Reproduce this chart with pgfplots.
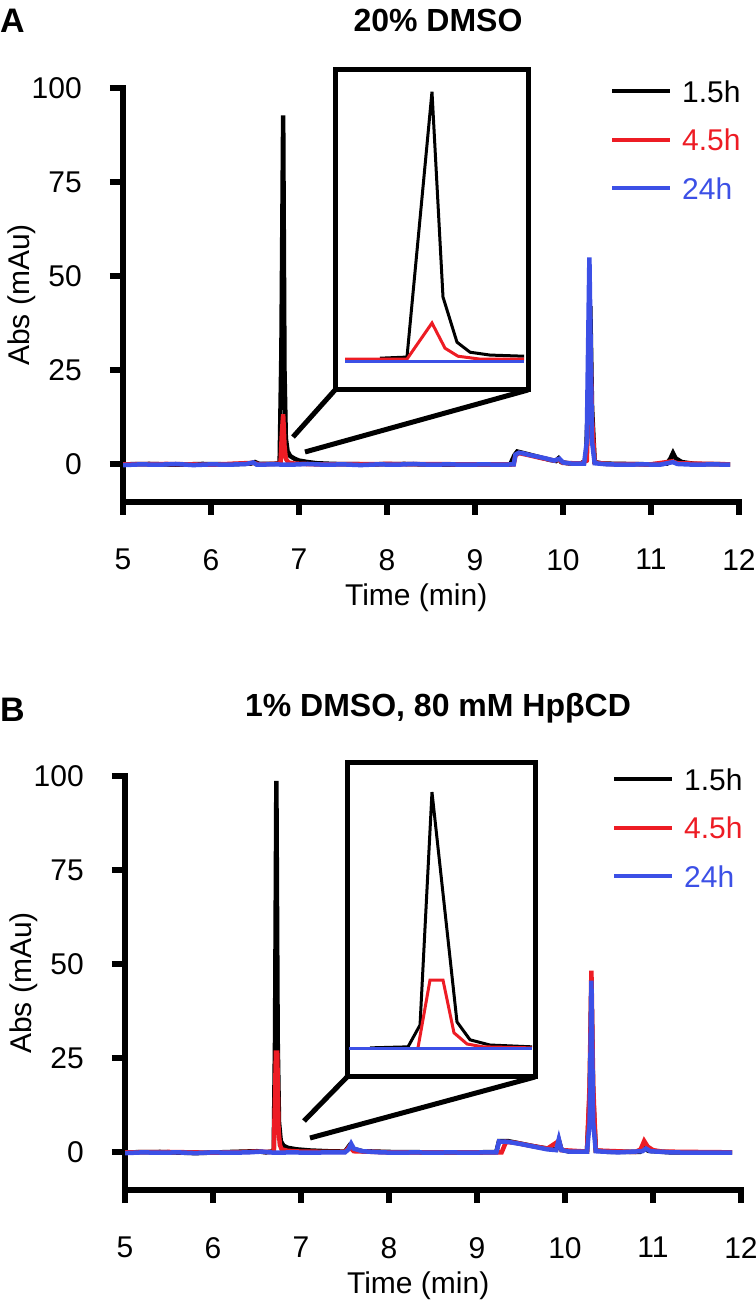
\documentclass[border=0pt]{standalone}
\usepackage{pgfplots}
\pgfplotsset{compat=1.18}
\usepackage{fontspec}
\setmainfont{Liberation Sans}
\definecolor{cred}{RGB}{237,28,36}
\definecolor{cblue}{RGB}{60,80,230}
\newcommand{\tf}{\fontsize{30bp}{36bp}\selectfont}
\newcommand{\hf}{\fontsize{32bp}{38bp}\selectfont\bfseries}
\newcommand{\pf}{\fontsize{34bp}{40bp}\selectfont\bfseries}

\pgfplotsset{
  mainax/.style={
    scale only axis, width=616bp, height=414bp,
    xmin=5, xmax=12, ymin=-10, ymax=100,
    axis x line=bottom, axis y line=left,
    axis line style={line width=6bp, -, line cap=rect},
    xtick={5,6,...,12}, ytick={0,25,50,75,100},
    tick align=outside, major tick length=13bp,
    every tick/.style={line width=6bp, black},
    tick label style={font=\tf},
    /pgf/number format/assume math mode=true,
    xticklabel style={anchor=north, inner sep=0pt, yshift=-34bp},
    yticklabel style={anchor=east, inner sep=0pt, xshift=-28bp},
    xlabel={Time (min)}, ylabel={Abs (mAu)},
    xlabel style={at={(axis description cs:0.476,-0.232)}, anchor=center, font=\tf},
    ylabel style={at={(axis description cs:-0.164,0.5)}, anchor=center, font=\tf},
    legend style={at={(axis description cs:0.7906,1.0193)}, anchor=north west,
      draw=none, fill=none, inner sep=0pt, row sep=26.5bp, column sep=10bp,
      font=\tf, nodes={inner sep=0pt, text height=22bp, text depth=0pt}},
    legend cell align=left,
    legend image code/.code={\draw[#1, line width=4bp] (0bp,0bp) -- (58bp,0bp);},
  },
  insetax/.style={
    scale only axis, ticks=none,
    axis line style={line width=5bp},
  },
}

\begin{document}
\begin{tikzpicture}
\useasboundingbox (0,0) rectangle (756bp,1309bp);

% ---------------- Panel A ----------------
\node[anchor=west, inner sep=0pt, font=\pf] at (0bp,1288bp) {A};
\node[inner sep=0pt, font=\hf] at (438bp,1288bp) {20\% DMSO};

\begin{axis}[mainax, at={(123bp,807bp)}, anchor=south west]
\addplot[black, line width=4.5bp] coordinates {
(5.00,0.0) (5.30,0.1) (5.60,-0.1) (5.90,0.1) (6.20,0.0) (6.45,0.2) (6.50,0.6)
(6.55,0.1) (6.70,0.1) (6.78,0.3) (6.80,30) (6.82,92.7) (6.835,25) (6.85,7)
(6.87,3.5) (6.90,2.2) (6.95,1.5) (7.00,1.0) (7.10,0.6) (7.20,0.3) (7.40,0.1)
(7.80,0.0) (8.20,0.1) (8.60,-0.1) (9.00,0.0) (9.40,0.0) (9.45,2.5) (9.48,3.4)
(9.55,3.0) (9.65,2.4) (9.75,1.8) (9.85,1.2) (9.92,0.9) (9.95,1.6) (9.98,0.6)
(10.05,0.3) (10.20,0.2) (10.26,1.0) (10.29,20) (10.31,42) (10.33,15) (10.36,0.6)
(10.45,0.2) (10.70,0.1) (11.00,0.0) (11.18,0.2) (11.22,1.5) (11.25,3.0) (11.28,1.6)
(11.35,0.6) (11.50,0.1) (11.90,0.0)};
\addlegendentry{1.5h}
\addplot[cred, line width=4.5bp] coordinates {
(5.00,0) (5.50,0.1) (6.00,-0.1) (6.48,0.4) (6.55,0) (6.79,0.2) (6.805,8)
(6.82,13.3) (6.835,5) (6.85,1.5) (6.88,0.5) (6.95,0.2) (7.20,0.0) (8.00,0.1)
(9.00,0) (9.44,0) (9.46,2.4) (9.50,3.0) (9.60,2.5) (9.75,1.7) (9.90,1.0)
(9.95,1.3) (10.00,0.4) (10.20,0.2) (10.27,1) (10.29,15) (10.31,33) (10.33,12)
(10.36,0.5) (10.50,0.1) (11.00,0) (11.24,0.8) (11.30,0.3) (11.90,0)};
\addlegendentry{\textcolor{cred}{4.5h}}
\addplot[cblue, line width=4.5bp] coordinates {
(5.00,-0.2) (5.20,0.0) (5.40,-0.1) (5.60,0.1) (5.80,-0.2) (6.00,0.0) (6.20,-0.1)
(6.40,0.1) (6.48,0.5) (6.52,-0.1) (6.70,0.0) (6.90,-0.1) (7.10,0.1) (7.30,-0.1)
(7.50,0.0) (7.70,-0.2) (7.90,0.0) (8.10,-0.1) (8.30,0.1) (8.50,-0.1) (8.70,0.0)
(8.90,-0.1) (9.10,0.0) (9.30,-0.1) (9.44,0.0) (9.46,2.6) (9.50,3.1) (9.55,2.9)
(9.60,2.6) (9.70,2.1) (9.80,1.6) (9.90,1.0) (9.96,1.5) (10.00,0.5) (10.10,0.2)
(10.24,0.2) (10.27,6) (10.30,55) (10.33,6) (10.36,0.3) (10.50,0.0) (10.70,-0.1)
(10.90,0.0) (11.10,-0.1) (11.25,0.6) (11.30,0.1) (11.50,-0.1) (11.70,0.0) (11.90,-0.1)};
\addlegendentry{\textcolor{cblue}{24h}}
\end{axis}

% zoom lines A
\draw[line width=5bp] (293bp,872bp) -- (335bp,919bp);
\draw[line width=5bp] (305bp,857bp) -- (528bp,919bp);

\begin{axis}[insetax, at={(335bp,919bp)}, anchor=south west,
  width=193bp, height=320bp, xmin=6.72, xmax=6.92, ymin=-10.1, ymax=101.7]
\addplot[black, line width=3bp] coordinates {
(6.7666,1.0) (6.7946,1.4) (6.8205,94.1) (6.8319,22.4) (6.8464,6.6) (6.8599,3.1)
(6.8806,2.1) (6.9159,1.7)};
\addplot[cred, line width=3bp] coordinates {
(6.7304,0.7) (6.7946,0.7) (6.8205,13.3) (6.8340,4.5) (6.8474,1.7) (6.8700,0.7)
(6.9159,0.7)};
\addplot[cblue, line width=3bp] coordinates {
(6.7304,0) (6.7800,0) (6.8300,0) (6.8800,0) (6.9159,0)};
\end{axis}

% ---------------- Panel B ----------------
\node[anchor=west, inner sep=0pt, font=\pf] at (0bp,599bp) {B};
\node[inner sep=0pt, font=\hf] at (438bp,601bp) {1\% DMSO, 80 mM Hpβ{}CD};

\begin{axis}[mainax, at={(125bp,119bp)}, anchor=south west]
\addplot[black, line width=4.5bp] coordinates {
(5.00,0) (5.40,0.1) (5.80,-0.2) (6.20,0.1) (6.50,0.3) (6.60,0.0) (6.69,0.3)
(6.705,30) (6.72,98.7) (6.735,30) (6.75,8) (6.77,3) (6.80,1.8) (6.85,1.2)
(6.95,0.8) (7.10,0.5) (7.30,0.3) (7.50,0.2) (7.55,1.8) (7.58,1.0) (7.70,0.3)
(8.00,0.1) (8.50,0.0) (9.00,0.0) (9.22,0.1) (9.25,3.0) (9.35,3.0) (9.50,2.3)
(9.65,1.6) (9.80,1.0) (9.90,0.7) (9.93,3.2) (9.96,0.7) (10.05,0.2) (10.25,0.2)
(10.28,15) (10.30,44) (10.32,15) (10.35,0.5) (10.50,0.1) (10.85,0.1) (10.90,1.0)
(10.95,0.4) (11.20,0.0) (11.90,0)};
\addlegendentry{1.5h}
\addplot[cred, line width=4.5bp] coordinates {
(5.00,0) (5.50,0.1) (6.00,-0.1) (6.50,0.2) (6.69,0.1) (6.705,15) (6.715,26.5)
(6.73,26.5) (6.745,6) (6.76,2) (6.78,0.8) (6.85,0.4) (7.00,0.2) (7.50,0.1)
(7.55,1.5) (7.60,0.3) (8.00,0) (9.00,0) (9.28,0) (9.33,2.8) (9.45,2.5)
(9.60,1.8) (9.80,1.0) (9.93,3.0) (9.96,0.6) (10.25,0.2) (10.28,18) (10.30,48.3)
(10.32,18) (10.35,0.5) (10.80,0.1) (10.86,0.8) (10.90,3.0) (10.94,1.5) (11.00,0.6)
(11.10,0.2) (11.90,0)};
\addlegendentry{\textcolor{cred}{4.5h}}
\addplot[cblue, line width=4.5bp] coordinates {
(5.00,-0.2) (5.20,0.0) (5.40,-0.1) (5.60,0.0) (5.80,-0.2) (6.00,0.0) (6.20,-0.1)
(6.40,0.0) (6.55,0.2) (6.70,-0.1) (6.90,0.0) (7.10,-0.1) (7.30,0.0) (7.50,0.0)
(7.54,0.8) (7.57,2.3) (7.60,1.0) (7.70,0.3) (7.90,0.0) (8.10,-0.1) (8.30,0.0)
(8.50,-0.1) (8.70,0.0) (8.90,-0.1) (9.10,0.0) (9.22,0.0) (9.25,2.9) (9.35,2.8)
(9.50,2.2) (9.65,1.5) (9.80,0.8) (9.90,0.6) (9.93,3.5) (9.96,0.6) (10.05,0.2)
(10.25,0.2) (10.28,8) (10.30,45.6) (10.32,8) (10.35,0.3) (10.60,0.0) (10.88,0.3)
(10.92,1.0) (10.97,0.3) (11.20,0.0) (11.50,-0.1) (11.90,-0.1)};
\addlegendentry{\textcolor{cblue}{24h}}
\end{axis}

% zoom lines B
\draw[line width=5bp] (304bp,188bp) -- (347bp,232bp);
\draw[line width=5bp] (310bp,171bp) -- (535bp,232bp);

\begin{axis}[insetax, at={(347bp,232bp)}, anchor=south west,
  width=188bp, height=314bp, xmin=6.63, xmax=6.83, ymin=-10.8, ymax=110]
\addplot[black, line width=3bp] coordinates {
(6.6545,0.4) (6.6949,0.8) (6.7077,9.2) (6.7204,98.8) (6.7470,10.4) (6.7609,3.5)
(6.7821,1.5) (6.8268,0.8)};
\addplot[cred, line width=3bp] coordinates {
(6.7055,0.4) (6.7183,26.5) (6.7321,26.5) (6.7438,6.2) (6.7577,1.9) (6.7747,0.8)
(6.8268,0.4)};
\addplot[cblue, line width=3bp] coordinates {
(6.6326,0) (6.6800,0) (6.7300,0) (6.7800,0) (6.8268,0)};
\end{axis}
\end{tikzpicture}
\end{document}
